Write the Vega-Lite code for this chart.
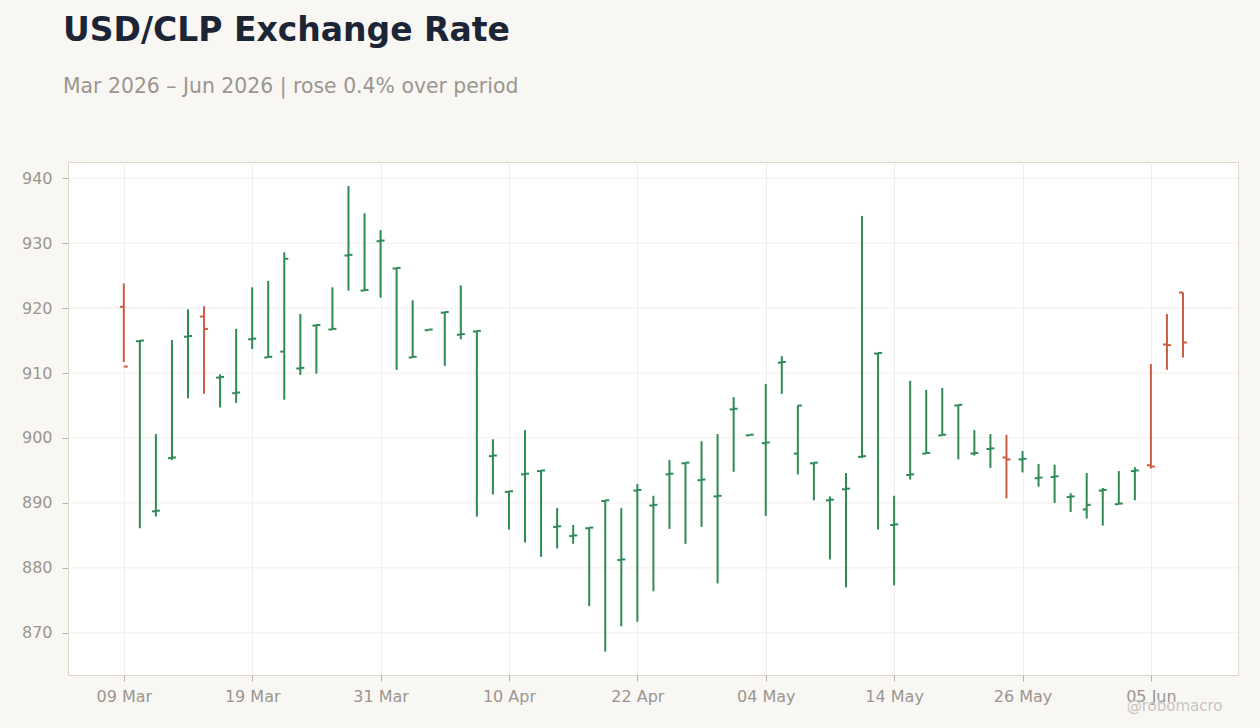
{
  "$schema": "https://vega.github.io/schema/vega-lite/v6.json",
  "width": 1170,
  "height": 513,
  "autosize": {"type": "none"},
  "padding": {"left": 68, "top": 162, "right": 22, "bottom": 53},
  "background": "#f8f7f4",
  "title": {
    "text": "USD/CLP Exchange Rate",
    "subtitle": "Mar 2026 – Jun 2026 | rose 0.4% over period",
    "anchor": "start",
    "frame": "group",
    "dx": -5,
    "offset": 65,
    "font": "DejaVu Sans",
    "fontSize": 33,
    "fontWeight": "bold",
    "color": "#1c2536",
    "subtitleFont": "DejaVu Sans",
    "subtitleFontSize": 20.4,
    "subtitleColor": "#9b968f",
    "subtitlePadding": 29
  },
  "data": {
    "values": [
      {"date": "2026-03-09", "open": 920.2, "high": 923.8, "low": 911.7, "close": 911.0},
      {"date": "2026-03-10", "open": 914.9, "high": 915.0, "low": 886.1, "close": 915.0},
      {"date": "2026-03-11", "open": 888.7, "high": 900.6, "low": 887.9, "close": 888.8},
      {"date": "2026-03-12", "open": 896.9, "high": 915.1, "low": 896.6, "close": 897.0},
      {"date": "2026-03-13", "open": 915.6, "high": 919.8, "low": 906.1, "close": 915.7},
      {"date": "2026-03-16", "open": 918.7, "high": 920.3, "low": 906.8, "close": 916.8},
      {"date": "2026-03-17", "open": 909.3, "high": 909.8, "low": 904.7, "close": 909.4},
      {"date": "2026-03-18", "open": 906.9, "high": 916.8, "low": 905.4, "close": 907.0},
      {"date": "2026-03-19", "open": 915.2, "high": 923.2, "low": 913.7, "close": 915.3},
      {"date": "2026-03-20", "open": 912.4, "high": 924.2, "low": 912.4, "close": 912.5},
      {"date": "2026-03-23", "open": 913.3, "high": 928.6, "low": 905.9, "close": 927.6},
      {"date": "2026-03-24", "open": 910.7, "high": 919.1, "low": 909.7, "close": 910.8},
      {"date": "2026-03-25", "open": 917.3, "high": 917.5, "low": 909.9, "close": 917.4},
      {"date": "2026-03-26", "open": 916.7, "high": 923.2, "low": 916.7, "close": 916.8},
      {"date": "2026-03-27", "open": 928.1, "high": 938.8, "low": 922.7, "close": 928.2},
      {"date": "2026-03-30", "open": 922.7, "high": 934.6, "low": 922.7, "close": 922.8},
      {"date": "2026-03-31", "open": 930.3, "high": 932.0, "low": 921.6, "close": 930.4},
      {"date": "2026-04-01", "open": 926.1, "high": 926.2, "low": 910.5, "close": 926.2},
      {"date": "2026-04-02", "open": 912.4, "high": 921.2, "low": 912.4, "close": 912.5},
      {"date": "2026-04-03", "open": 916.6, "high": 916.7, "low": 916.6, "close": 916.7},
      {"date": "2026-04-06", "open": 919.3, "high": 919.4, "low": 911.1, "close": 919.4},
      {"date": "2026-04-07", "open": 915.9, "high": 923.5, "low": 915.2, "close": 916.0},
      {"date": "2026-04-08", "open": 916.4, "high": 916.5, "low": 887.9, "close": 916.5},
      {"date": "2026-04-09", "open": 897.2, "high": 899.8, "low": 891.3, "close": 897.3},
      {"date": "2026-04-10", "open": 891.7, "high": 891.8, "low": 885.9, "close": 891.8},
      {"date": "2026-04-13", "open": 894.4, "high": 901.2, "low": 883.9, "close": 894.5},
      {"date": "2026-04-14", "open": 894.9, "high": 895.0, "low": 881.7, "close": 895.0},
      {"date": "2026-04-15", "open": 886.3, "high": 889.2, "low": 883.0, "close": 886.4},
      {"date": "2026-04-16", "open": 884.9, "high": 886.6, "low": 883.7, "close": 885.0},
      {"date": "2026-04-17", "open": 886.1, "high": 886.2, "low": 874.1, "close": 886.2},
      {"date": "2026-04-20", "open": 890.3, "high": 890.4, "low": 867.1, "close": 890.4},
      {"date": "2026-04-21", "open": 881.2, "high": 889.2, "low": 871.0, "close": 881.3},
      {"date": "2026-04-22", "open": 891.9, "high": 892.9, "low": 871.7, "close": 892.0},
      {"date": "2026-04-23", "open": 889.6, "high": 891.1, "low": 876.4, "close": 889.7},
      {"date": "2026-04-24", "open": 894.4, "high": 896.6, "low": 886.0, "close": 894.5},
      {"date": "2026-04-27", "open": 896.1, "high": 896.2, "low": 883.7, "close": 896.2},
      {"date": "2026-04-28", "open": 893.5, "high": 899.5, "low": 886.3, "close": 893.6},
      {"date": "2026-04-29", "open": 891.0, "high": 900.6, "low": 877.6, "close": 891.1},
      {"date": "2026-04-30", "open": 904.4, "high": 906.3, "low": 894.8, "close": 904.5},
      {"date": "2026-05-01", "open": 900.4, "high": 900.5, "low": 900.4, "close": 900.5},
      {"date": "2026-05-04", "open": 899.2, "high": 908.3, "low": 888.0, "close": 899.3},
      {"date": "2026-05-05", "open": 911.6, "high": 912.6, "low": 906.8, "close": 911.7},
      {"date": "2026-05-06", "open": 897.6, "high": 905.0, "low": 894.4, "close": 905.0},
      {"date": "2026-05-07", "open": 896.1, "high": 896.2, "low": 890.4, "close": 896.2},
      {"date": "2026-05-08", "open": 890.4, "high": 891.0, "low": 881.3, "close": 890.5},
      {"date": "2026-05-11", "open": 892.1, "high": 894.6, "low": 877.0, "close": 892.2},
      {"date": "2026-05-12", "open": 897.1, "high": 934.2, "low": 896.9, "close": 897.2},
      {"date": "2026-05-13", "open": 913.0, "high": 913.1, "low": 885.9, "close": 913.1},
      {"date": "2026-05-14", "open": 886.6, "high": 891.1, "low": 877.3, "close": 886.7},
      {"date": "2026-05-15", "open": 894.3, "high": 908.8, "low": 893.6, "close": 894.4},
      {"date": "2026-05-18", "open": 897.6, "high": 907.4, "low": 897.6, "close": 897.7},
      {"date": "2026-05-19", "open": 900.4, "high": 907.7, "low": 900.4, "close": 900.5},
      {"date": "2026-05-20", "open": 905.0, "high": 905.1, "low": 896.7, "close": 905.1},
      {"date": "2026-05-21", "open": 897.6, "high": 901.2, "low": 897.3, "close": 897.7},
      {"date": "2026-05-22", "open": 898.3, "high": 900.6, "low": 895.4, "close": 898.4},
      {"date": "2026-05-25", "open": 897.0, "high": 900.5, "low": 890.7, "close": 896.7},
      {"date": "2026-05-26", "open": 896.7, "high": 898.0, "low": 894.7, "close": 896.8},
      {"date": "2026-05-27", "open": 893.8, "high": 896.0, "low": 892.5, "close": 893.9},
      {"date": "2026-05-28", "open": 894.0, "high": 895.9, "low": 890.0, "close": 894.1},
      {"date": "2026-05-29", "open": 890.9, "high": 891.5, "low": 888.6, "close": 891.0},
      {"date": "2026-06-01", "open": 889.0, "high": 894.6, "low": 887.6, "close": 889.7},
      {"date": "2026-06-02", "open": 891.9, "high": 892.3, "low": 886.5, "close": 892.0},
      {"date": "2026-06-03", "open": 889.8, "high": 894.9, "low": 889.8, "close": 889.9},
      {"date": "2026-06-04", "open": 894.9, "high": 895.5, "low": 890.4, "close": 895.0},
      {"date": "2026-06-05", "open": 895.8, "high": 911.4, "low": 895.3, "close": 895.6},
      {"date": "2026-06-08", "open": 914.4, "high": 919.1, "low": 910.5, "close": 914.3},
      {"date": "2026-06-09", "open": 922.4, "high": 922.4, "low": 912.4, "close": 914.7}
    ]
  },
  "layer": [
    {
      "data": {"values": [{"v": 870}, {"v": 880}, {"v": 890}, {"v": 900}, {"v": 910}, {"v": 920}, {"v": 930}, {"v": 940}]},
      "mark": {"type": "rule", "color": "#f0eeeb", "strokeWidth": 1},
      "encoding": {
        "y": {
          "field": "v",
          "type": "quantitative",
          "scale": {"domain": [863.5, 942.5], "nice": false, "zero": false},
          "axis": {"title": null, "grid": false, "values": [870, 880, 890, 900, 910, 920, 930, 940], "labelPadding": 10}
        }
      }
    },
    {
      "encoding": {
        "x": {
          "field": "date",
          "type": "ordinal",
          "sort": null,
          "scale": {"type": "point", "padding": 0, "range": [55.8, 1115]},
          "axis": {
            "title": "@robomacro",
            "titleX": 1154,
            "titleY": 35,
            "titleAlign": "right",
            "titleBaseline": "alphabetic",
            "titleFontSize": 15,
            "titleFontWeight": "normal",
            "titleColor": "#c9c5c0",
            "values": ["2026-03-09", "2026-03-19", "2026-03-31", "2026-04-10", "2026-04-22", "2026-05-04", "2026-05-14", "2026-05-26", "2026-06-05"],
            "labelExpr": "utcFormat(toDate(datum.value), '%d %b')",
            "labelAngle": 0,
            "labelPadding": 7,
            "grid": true
          }
        },
        "color": {
          "condition": {"test": "datum.close >= datum.open", "value": "#2e8b57"},
          "value": "#cd5c45"
        }
      },
      "layer": [
        {
          "mark": {"type": "rule", "strokeWidth": 2},
          "encoding": {
            "y": {"field": "low", "type": "quantitative"},
            "y2": {"field": "high"}
          }
        },
        {
          "mark": {"type": "tick", "size": 4, "thickness": 2, "xOffset": -2, "opacity": 1},
          "encoding": {"y": {"field": "open", "type": "quantitative"}}
        },
        {
          "mark": {"type": "tick", "size": 4, "thickness": 2, "xOffset": 2, "opacity": 1},
          "encoding": {"y": {"field": "close", "type": "quantitative"}}
        }
      ]
    }
  ],
  "config": {
    "font": "DejaVu Sans",
    "view": {"stroke": "#ddd7d0", "fill": "#ffffff"},
    "axis": {
      "domain": false,
      "labelColor": "#9b968f",
      "labelFontSize": 16,
      "tickColor": "#b8b2ab",
      "tickSize": 6,
      "gridColor": "#f0eeeb"
    }
  }
}
